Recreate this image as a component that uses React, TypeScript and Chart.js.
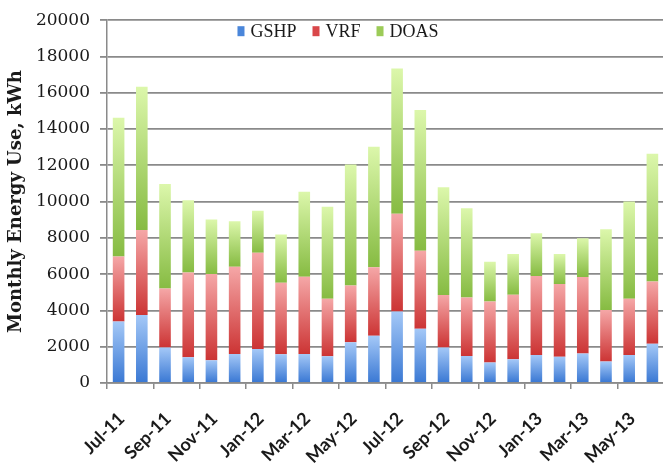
import React, { useEffect, useRef } from "react";
import { Chart, registerables } from "chart.js";

Chart.register(...registerables);

const CATEGORIES = [
  "Jul-11", "Aug-11", "Sep-11", "Oct-11", "Nov-11", "Dec-11",
  "Jan-12", "Feb-12", "Mar-12", "Apr-12", "May-12", "Jun-12",
  "Jul-12", "Aug-12", "Sep-12", "Oct-12", "Nov-12", "Dec-12",
  "Jan-13", "Feb-13", "Mar-13", "Apr-13", "May-13", "Jun-13",
];

const GSHP = [3390, 3750, 1960, 1420, 1260, 1600, 1880, 1580, 1600, 1480, 2240, 2600,
  3940, 2990, 1960, 1490, 1130, 1310, 1540, 1450, 1620, 1180, 1540, 2160];
const VRF = [3590, 4680, 3250, 4670, 4750, 4810, 5300, 3940, 4260, 3170, 3140, 3780,
  5390, 4300, 2890, 3230, 3360, 3560, 4360, 4010, 4230, 2850, 3110, 3440];
const DOAS = [7640, 7900, 5760, 3980, 3010, 2510, 2320, 2660, 4680, 5070, 6660, 6650,
  8010, 7760, 5940, 4910, 2200, 2240, 2350, 1650, 2130, 4450, 5350, 7040];

const SERIES_NAMES = ["GSHP", "VRF", "DOAS"];
const SERIES = [GSHP, VRF, DOAS];

const Y_MIN = 0;
const Y_MAX = 20000;
const Y_STEP = 2000;

// [top colour, bottom colour, legend swatch]
const STYLES: [string, string, string][] = [
  ["#a4c8f7", "#3b79d4", "#4a86da"],
  ["#f5a7a7", "#cc3434", "#d9474a"],
  ["#dcf7ab", "#86bb42", "#9ccb58"],
];

const GRID = "#8a8a8a";
const TEXT = "#1a1a1a";

const gradientPlugin = {
  id: "segmentGradient",
  beforeDatasetsDraw(chart: any) {
    const c = chart.ctx;
    chart.data.datasets.forEach((_ds: any, d: number) => {
      const meta = chart.getDatasetMeta(d);
      const [top, bottom] = STYLES[d];
      meta.data.forEach((el: any) => {
        const yTop = Math.min(el.y, el.base);
        const yBot = Math.max(el.y, el.base);
        if (!isFinite(yTop) || !isFinite(yBot) || yTop === yBot) return;
        const g = c.createLinearGradient(0, yTop, 0, yBot);
        g.addColorStop(0, top);
        g.addColorStop(1, bottom);
        el.options.backgroundColor = g;
      });
    });
  },
};

const legendPlugin = {
  id: "topLegend",
  afterDatasetsDraw(chart: any) {
    const c = chart.ctx;
    c.save();
    c.font = "18px 'Liberation Serif', serif";
    c.textBaseline = "middle";
    const boxW = 7, boxH = 10, gap = 6, spacing = 16;
    const widths = SERIES_NAMES.map((n) => c.measureText(n).width);
    const total = widths.reduce((a, w) => a + boxW + gap + w, 0) + spacing * (SERIES_NAMES.length - 1);
    let x = chart.width / 2 + 6 - total / 2;
    const yMid = chart.chartArea.top + 11;
    SERIES_NAMES.forEach((n, k) => {
      c.fillStyle = STYLES[k][2];
      c.fillRect(x, yMid - boxH / 2, boxW, boxH);
      x += boxW + gap;
      c.fillStyle = TEXT;
      c.fillText(n, x, yMid + 1);
      x += widths[k] + spacing;
    });
    c.restore();
  },
};

export default function App() {
  const ref = useRef<HTMLCanvasElement | null>(null);

  useEffect(() => {
    if (!ref.current) return;
    const chart = new Chart(ref.current, {
      type: "bar",
      data: {
        labels: CATEGORIES,
        datasets: SERIES.map((vals, d) => ({
          label: SERIES_NAMES[d],
          data: vals,
          backgroundColor: (_ctx: any) => STYLES[d][1],
          borderWidth: 0,
          barPercentage: 0.5,
          categoryPercentage: 1.0,
        })),
      },
      options: {
        responsive: false,
        animation: false,
        layout: { padding: { top: 20, left: 0, right: 0, bottom: 0 } },
        plugins: {
          legend: { display: false },
          tooltip: { enabled: false },
        },
        scales: {
          x: {
            stacked: true,
            afterFit: (s: any) => {
              s.height = 80;
              s.paddingLeft = 0;
              s.paddingRight = 0;
            },
            grid: {
              drawOnChartArea: false,
              drawTicks: true,
              tickLength: 6,
              lineWidth: 1.5,
              color: (c: any) => (c.index % 2 === 0 ? GRID : "rgba(0,0,0,0)"),
            },
            border: { display: true, color: GRID, width: 1.5 },
            ticks: {
              autoSkip: false,
              minRotation: 45,
              maxRotation: 45,
              padding: 19,
              labelOffset: 3,
              color: TEXT,
              font: { family: "Lato, 'Open Sans', sans-serif", size: 18, weight: "bold" },
              callback: (_v: any, i: number) => (i % 2 === 0 ? CATEGORIES[i] : ""),
            },
          },
          y: {
            stacked: true,
            min: Y_MIN,
            max: Y_MAX,
            afterFit: (s: any) => { s.width = 107; },
            grid: { color: GRID, lineWidth: 1.8, tickLength: 7 },
            border: { display: true, color: GRID, width: 1.5 },
            ticks: {
              stepSize: Y_STEP,
              padding: 10,
              color: TEXT,
              font: { family: "'DejaVu Serif', serif", size: 17 },
              callback: (v: any) => String(v),
            },
            title: {
              display: true,
              text: "Monthly Energy Use, kWh",
              color: TEXT,
              padding: { top: 6, bottom: 0 },
              font: { family: "'DejaVu Serif', serif", size: 18, weight: "bold" },
            },
          },
        },
      },
      plugins: [gradientPlugin, legendPlugin],
    });
    return () => chart.destroy();
  }, []);

  return (
    <div style={{ position: "fixed", left: 0, top: 0, width: 663, height: 463, overflow: "hidden", background: "#fff" }}>
      <canvas ref={ref} width={664} height={463} style={{ display: "block" }} />
    </div>
  );
}
